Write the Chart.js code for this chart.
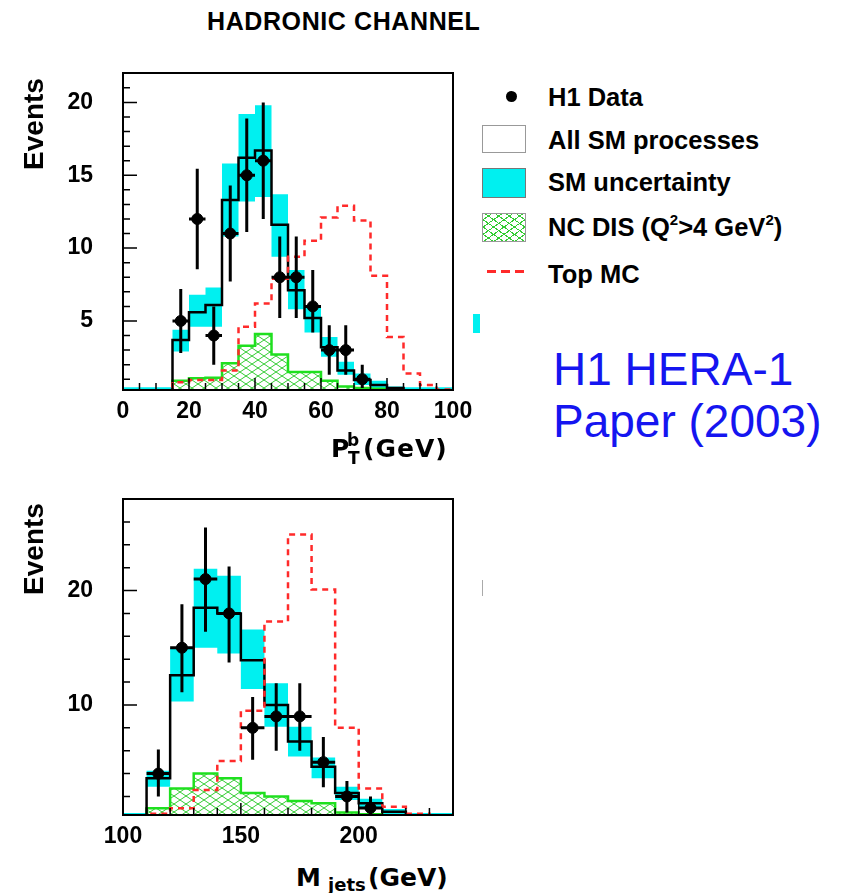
<!DOCTYPE html>
<html>
<head>
<meta charset="utf-8">
<title>Hadronic channel</title>
<script src="https://cdn.jsdelivr.net/npm/chart.js@4.4.0/dist/chart.umd.min.js"></script>
<style>
    html, body { margin: 0; padding: 0; background: #fff; }
    #page { position: relative; width: 846px; height: 893px; overflow: hidden; color: #000;
            font-family: "Liberation Sans", Arial, sans-serif; }
    .abs { position: absolute; white-space: nowrap; line-height: 1; }
    canvas { position: absolute; left: 0; }
    .title { left: 207px; top: 9px; font-size: 25px; font-weight: bold; letter-spacing: 0.6px; }
    .ylab { width: 120px; left: -26px; height: 28px; line-height: 28px; font-size: 28px;
            font-weight: bold; text-align: center; transform: rotate(-90deg); }
    .axt { font-family: "DejaVu Sans", sans-serif; font-weight: bold; font-size: 25px; }
    .axs { font-family: "DejaVu Sans", sans-serif; font-weight: bold; font-size: 17px; }
    .leg { left: 548px; font-size: 25.5px; font-weight: bold; }
    .leg sup { font-size: 15px; vertical-align: 0; position: relative; top: -11px; }
    .box { position: absolute; left: 482px; width: 44px; box-sizing: border-box; border: 1.5px solid #999; }
    .blue { left: 553px; font-size: 46px; color: #1515f0; }
</style>
</head>
<body>
<div id="page">
    <div class="abs title">HADRONIC CHANNEL</div>

    <canvas id="pt-chart" width="480" height="380" style="top:60px"></canvas>
    <canvas id="mjets-chart" width="480" height="370" style="top:480px"></canvas>

    <div class="abs ylab" style="top:110px">Events</div>
    <div class="abs ylab" style="top:535px">Events</div>

    <!-- x axis titles -->
    <div class="abs axt" style="left:331px;top:436px">P</div>
    <div class="abs axs" style="left:347px;top:432px">b</div>
    <div class="abs axs" style="left:348px;top:450px">T</div>
    <div class="abs axt" style="left:363px;top:436px;letter-spacing:1px">(GeV)</div>

    <div class="abs axt" style="left:296px;top:865px">M</div>
    <div class="abs axs" style="left:328px;top:876px;font-size:18px">jets</div>
    <div class="abs axt" style="left:368px;top:865px">(GeV)</div>

    <!-- legend -->
    <div class="abs" style="left:506px;top:91px;width:11px;height:11px;border-radius:50%;background:#000"></div>
    <div class="abs leg" style="top:85px">H1 Data</div>
    <div class="box" style="top:125px;height:28px;background:#fff"></div>
    <div class="abs leg" style="top:128px">All SM processes</div>
    <div class="box" style="top:168px;height:30px;background:#00f0f0;border-color:#777"></div>
    <div class="abs leg" style="top:170px">SM uncertainty</div>
    <div class="box" style="top:213px;height:29px;background:
        repeating-linear-gradient(35deg, transparent 0 5px, #3c3 5px 6px),
        repeating-linear-gradient(-35deg, transparent 0 5px, #3c3 5px 6px), #fff"></div>
    <div class="abs leg" style="top:215px">NC DIS (Q<sup>2</sup>&gt;4 GeV<sup>2</sup>)</div>
    <div class="abs" style="left:487px;top:270px;width:37px;height:3px;background:repeating-linear-gradient(90deg, #ff2a2a 0 9px, transparent 9px 14px)"></div>
    <div class="abs leg" style="top:262px">Top MC</div>

    <div class="abs blue" style="top:346px">H1 HERA-1</div>
    <div class="abs blue" style="top:398px">Paper (2003)</div>

    <!-- small leftovers of the original slide -->
    <div class="abs" style="left:473px;top:314px;width:7px;height:19px;background:#00f0f0"></div>
    <div class="abs" style="left:482px;top:580px;width:1px;height:16px;background:#aaa"></div>
</div>

<script>
// ---------- P_T^b (5 GeV bins) ----------
const ptEdges = [0, 5, 10, 15, 20, 25, 30, 35, 40, 45, 50, 55, 60, 65, 70, 75, 80, 85, 90, 95, 100];
const ptSmTotal = [0, 0, 0, 3.7, 5.6, 6.1, 13.3, 16.2, 16.7, 11.6, 7.1, 5.2, 3.2, 1.6, 0.95, 0.6, 0.4, 0, 0, 0];
const ptSmLow = [0, 0, 0, 2.9, 4.6, 4.6, 10.8, 13.2, 13.5, 9.4, 5.8, 4.2, 2.55, 1.3, 0.6, 0.4, 0.3, 0, 0, 0];
const ptSmHigh = [0.45, 0.45, 0.45, 4.4, 6.8, 7.3, 15.8, 19.2, 19.8, 13.7, 8.5, 6.1, 3.9, 2.2, 1.4, 0.9, 0.5, 0.45, 0.45, 0.45];
const ptNcDis = [0, 0, 0, 0.9, 1.06, 1.1, 2.1, 3.3, 4.1, 2.7, 1.5, 1.5, 0.9, 0.5, 0.4, 0.35, 0, 0, 0, 0];
const ptTopMc = [0, 0, 0, 0.8, 0.95, 0.95, 1.6, 4.6, 6.2, 7.9, 9.4, 10.5, 12.1, 12.9, 11.9, 8.1, 3.9, 1.4, 0.6, 0.3];

const ptDataX = [17.5, 22.5, 27.5, 32.5, 37.5, 42.5, 47.5, 52.5, 57.5, 62.5, 67.5, 72.5];
const ptDataY = [5, 12, 4, 11, 15, 16, 8, 8, 6, 3, 3, 1];
const ptDataLow = [2.8, 8.55, 2.0, 7.7, 11.1, 12.0, 5.2, 5.2, 4.2, 1.3, 1.3, 0.4];
const ptDataHigh = [7.2, 15.45, 6.0, 14.3, 18.9, 20.0, 10.8, 10.8, 8.5, 4.7, 4.7, 2.0];

const ptXTicks = [0, 20, 40, 60, 80, 100];
const ptYTicks = [5, 10, 15, 20];

// ---------- M_jets (10 GeV bins) ----------
const mjEdges = [100, 110, 120, 130, 140, 150, 160, 170, 180, 190, 200, 210, 220, 230, 240];
const mjSmTotal = [0, 3.6, 12.6, 18.5, 18.0, 13.9, 10.0, 6.8, 4.6, 2.3, 1.4, 0.67, 0, 0];
const mjSmLow = [0, 2.85, 10.3, 15.0, 14.5, 11.4, 8.1, 5.5, 3.6, 1.7, 0.96, 0.45, 0, 0];
const mjSmHigh = [0.55, 4.25, 15.0, 21.9, 21.3, 16.6, 11.9, 8.1, 5.4, 2.85, 1.8, 0.9, 0.55, 0.55];
const mjNcDis = [0, 0.96, 2.7, 4.0, 3.6, 2.3, 2.0, 1.6, 1.4, 0.6, 0.45, 0, 0, 0];
const mjTopMc = [0, 0.5, 0.96, 2.56, 5.1, 9.5, 17.3, 24.9, 20.1, 8.0, 2.7, 1.1, 0.5, 0.3];

const mjDataX = [115, 125, 135, 145, 155, 165, 175, 185, 195, 205];
const mjDataY = [4, 15, 21, 18, 8, 9, 9, 5, 2, 1];
const mjDataLow = [2.0, 11.1, 16.4, 13.7, 5.2, 6.0, 6.0, 2.8, 0.6, 0.4];
const mjDataHigh = [6.1, 18.8, 25.5, 22.1, 10.7, 11.9, 11.9, 7.2, 3.35, 2.0];

const mjXTicks = [100, 150, 200];
const mjYTicks = [10, 20];

const CYAN = "#00f0f0";
const GREEN = "#1fe01f";
const RED = "#ff2a2a";
const TICK_FONT = { family: "'Liberation Sans', Arial, sans-serif", size: 23, weight: "bold" };

// Histogram outline: rise from the floor, one step per bin, back to the floor
function stepPoints(edges, values) {
    const pts = [{ x: edges[0], y: 0 }];
    values.forEach((v, i) => pts.push({ x: edges[i], y: v }));
    pts.push({ x: edges[edges.length - 1], y: values[values.length - 1] });
    pts.push({ x: edges[edges.length - 1], y: 0 });
    return pts;
}

// Band edge (no floor points, so two of them can be filled in between)
function bandPoints(edges, values) {
    const pts = values.map((v, i) => ({ x: edges[i], y: v }));
    pts.push({ x: edges[edges.length - 1], y: values[values.length - 1] });
    return pts;
}

// Green cross hatch
function makeHatch() {
    const c = document.createElement("canvas");
    c.width = 12;
    c.height = 8;
    const g = c.getContext("2d");
    g.strokeStyle = "#33cc33";
    g.lineWidth = 1;
    g.beginPath();
    g.moveTo(0, 0); g.lineTo(12, 8);
    g.moveTo(12, 0); g.lineTo(0, 8);
    g.stroke();
    return g.createPattern(c, "repeat");
}

// Frame and inward ticks (ROOT style)
const frameTicks = {
    id: "frameTicks",
    afterDraw(chart, args, opts) {
        const { ctx, chartArea: a, scales: { x, y } } = chart;
        const isMajor = (scale, v) => scale.ticks.some(t => Math.abs(t.value - v) < 1e-6);

        ctx.save();
        ctx.strokeStyle = "#000";
        ctx.lineWidth = 1.5;
        ctx.beginPath();
        for (let i = Math.ceil(x.min / opts.xMinor); i * opts.xMinor <= x.max; i++) {
            const v = i * opts.xMinor;
            const px = x.getPixelForValue(v);
            ctx.moveTo(px, a.bottom);
            ctx.lineTo(px, a.bottom - (isMajor(x, v) ? 12 : 7));
        }
        for (let i = Math.ceil(y.min / opts.yMinor); i * opts.yMinor <= y.max; i++) {
            const v = i * opts.yMinor;
            const py = y.getPixelForValue(v);
            ctx.moveTo(a.left, py);
            ctx.lineTo(a.left + (isMajor(y, v) ? 14 : 7), py);
        }
        ctx.stroke();
        ctx.lineWidth = 2;
        ctx.strokeRect(a.left, a.top, a.right - a.left, a.bottom - a.top);
        ctx.restore();
    }
};

// Vertical error bars and bin-width bars for the data points
const errorBars = {
    id: "errorBars",
    afterDatasetsDraw(chart) {
        const { ctx, chartArea: a, scales: { x, y } } = chart;
        ctx.save();
        ctx.beginPath();
        ctx.rect(a.left, a.top, a.right - a.left, a.bottom - a.top);
        ctx.clip();
        ctx.strokeStyle = "#000";
        ctx.lineWidth = 3;
        ctx.beginPath();
        chart.data.datasets.forEach(ds => {
            if (!ds.errorBars) return;
            const { low, high, half } = ds.errorBars;
            ds.data.forEach((p, i) => {
                const px = x.getPixelForValue(p.x);
                const py = y.getPixelForValue(p.y);
                ctx.moveTo(px, y.getPixelForValue(low[i]));
                ctx.lineTo(px, y.getPixelForValue(high[i]));
                ctx.moveTo(x.getPixelForValue(p.x - half), py);
                ctx.lineTo(x.getPixelForValue(p.x + half), py);
            });
        });
        ctx.stroke();
        ctx.restore();
    }
};

function createHistChart(id, cfg) {
    const ctx = document.getElementById(id).getContext("2d");
    // 'before': horizontal at the previous value, then the vertical step
    const line = { pointRadius: 0, stepped: "before", tension: 0 };

    return new Chart(ctx, {
        type: "line",
        data: {
            datasets: [
                {
                    label: "H1 Data",
                    data: cfg.dataX.map((x, i) => ({ x: x, y: cfg.dataY[i] })),
                    showLine: false,
                    pointRadius: 5.5,
                    pointBackgroundColor: "#000",
                    pointBorderColor: "#000",
                    errorBars: { low: cfg.dataLow, high: cfg.dataHigh, half: cfg.halfBin }
                },
                {
                    ...line,
                    label: "Top MC",
                    data: stepPoints(cfg.edges, cfg.topMc),
                    borderColor: RED,
                    borderWidth: 2.5,
                    borderDash: [6, 5],
                    fill: false
                },
                {
                    ...line,
                    label: "All SM processes",
                    data: stepPoints(cfg.edges, cfg.smTotal),
                    borderColor: "#000",
                    borderWidth: 2.5,
                    fill: false
                },
                {
                    ...line,
                    label: "NC DIS",
                    data: stepPoints(cfg.edges, cfg.ncDis),
                    borderColor: GREEN,
                    borderWidth: 2.5,
                    backgroundColor: makeHatch(),
                    fill: "start"
                },
                {
                    ...line,
                    label: "SM uncertainty",
                    data: bandPoints(cfg.edges, cfg.smHigh),
                    borderColor: "transparent",
                    borderWidth: 0,
                    backgroundColor: CYAN,
                    fill: "+1"
                },
                {
                    ...line,
                    label: "SM uncertainty low",
                    data: bandPoints(cfg.edges, cfg.smLow),
                    borderColor: "transparent",
                    borderWidth: 0,
                    fill: false
                }
            ]
        },
        options: {
            responsive: false,
            animation: false,
            devicePixelRatio: 1,
            events: [],
            layout: { padding: cfg.padding },
            plugins: {
                legend: { display: false },
                tooltip: { enabled: false },
                frameTicks: { xMinor: cfg.xMinor, yMinor: cfg.yMinor }
            },
            scales: {
                x: {
                    type: "linear",
                    min: cfg.xMin,
                    max: cfg.xMax,
                    grid: { display: false, drawTicks: false },
                    border: { display: false },
                    ticks: { color: "#000", font: TICK_FONT, padding: 8, maxRotation: 0, autoSkip: false },
                    afterBuildTicks: s => { s.ticks = cfg.xTicks.map(v => ({ value: v })); },
                    afterFit: s => {
                        s.height = cfg.xAxisHeight;
                        s.paddingLeft = 0;
                        s.paddingRight = 0;
                    }
                },
                y: {
                    type: "linear",
                    min: cfg.yMin,
                    max: cfg.yMax,
                    grid: { display: false, drawTicks: false },
                    border: { display: false },
                    ticks: { color: "#000", font: TICK_FONT, padding: 30, autoSkip: false },
                    afterBuildTicks: s => { s.ticks = cfg.yTicks.map(v => ({ value: v })); },
                    afterFit: s => {
                        s.width = cfg.yAxisWidth;
                        s.paddingTop = 0;
                        s.paddingBottom = 0;
                    }
                }
            }
        },
        plugins: [frameTicks, errorBars]
    });
}

// P_T^b chart
createHistChart("pt-chart", {
    edges: ptEdges, smTotal: ptSmTotal, smLow: ptSmLow, smHigh: ptSmHigh,
    ncDis: ptNcDis, topMc: ptTopMc,
    dataX: ptDataX, dataY: ptDataY, dataLow: ptDataLow, dataHigh: ptDataHigh, halfBin: 2.5,
    xTicks: ptXTicks, yTicks: ptYTicks, xMinor: 5, yMinor: 1,
    xMin: 0, xMax: 100, yMin: 0.26, yMax: 22.02,
    padding: { left: 0, top: 13, right: 27, bottom: 0 },
    yAxisWidth: 123, xAxisHeight: 50
});

// M_jets chart
createHistChart("mjets-chart", {
    edges: mjEdges, smTotal: mjSmTotal, smLow: mjSmLow, smHigh: mjSmHigh,
    ncDis: mjNcDis, topMc: mjTopMc,
    dataX: mjDataX, dataY: mjDataY, dataLow: mjDataLow, dataHigh: mjDataHigh, halfBin: 5,
    xTicks: mjXTicks, yTicks: mjYTicks, xMinor: 10, yMinor: 2,
    xMin: 100, xMax: 240, yMin: 0.38, yMax: 28,
    padding: { left: 0, top: 19, right: 27, bottom: 0 },
    yAxisWidth: 123, xAxisHeight: 35
});
</script>
</body>
</html>
